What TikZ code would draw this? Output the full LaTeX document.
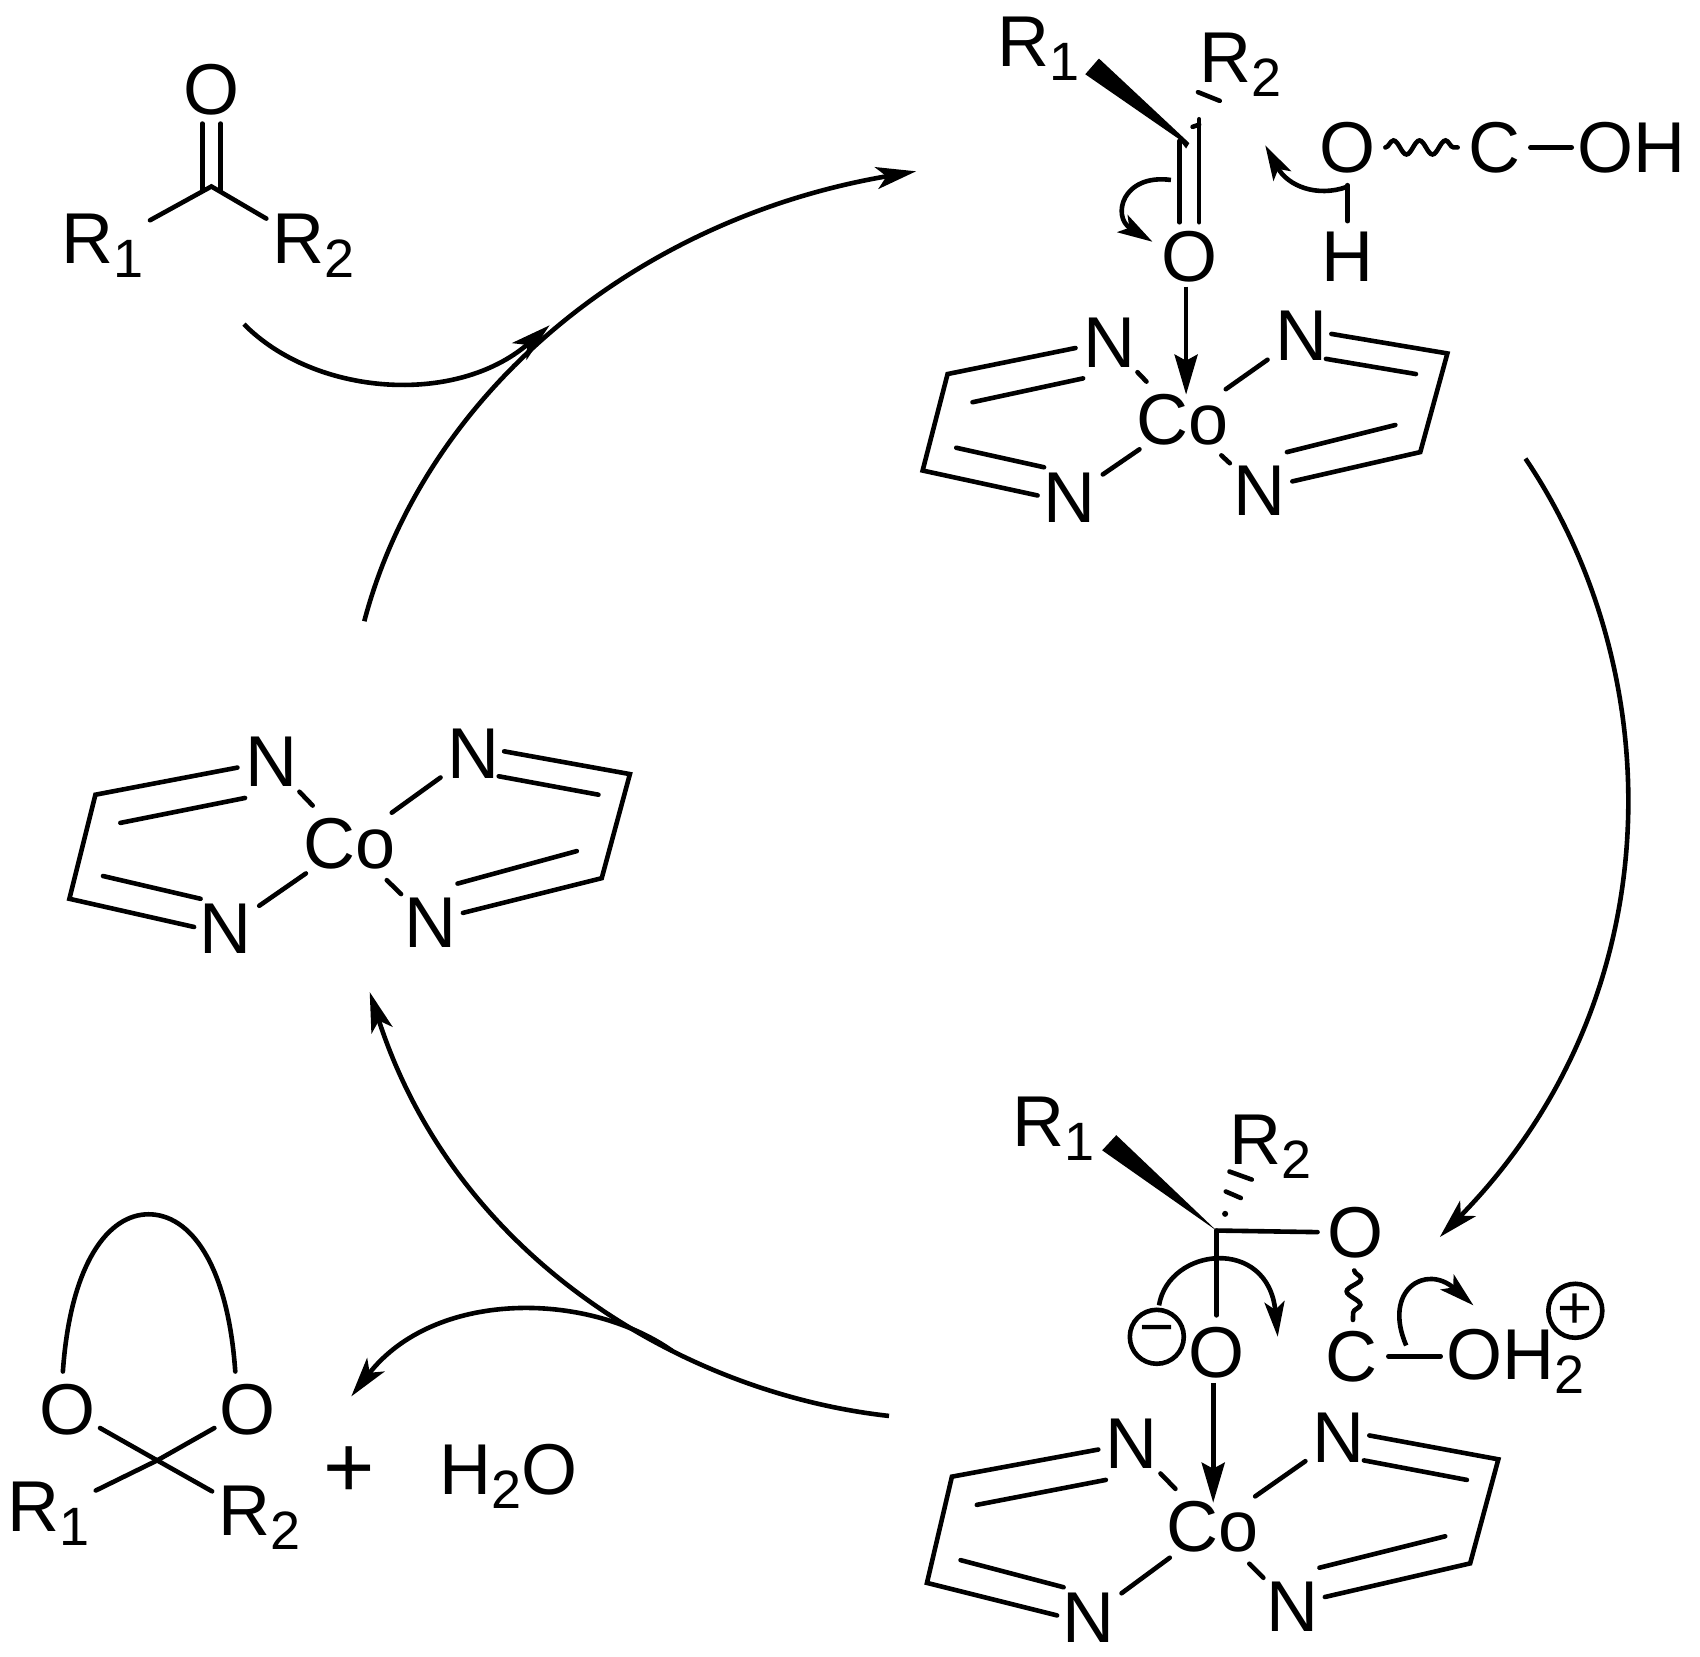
\documentclass[tikz,border=0pt]{standalone}
\usepackage{fontspec}
\setmainfont{Liberation Sans}
\usetikzlibrary{calc,arrows.meta,decorations.pathmorphing}
\newcommand{\subdig}[1]{\raisebox{-7pt}{\fontsize{27}{27}\selectfont #1}}
\tikzset{
 bond/.style={line width=2.3pt,line cap=round,line join=miter},
 rxn/.style={line width=2.3pt,-{Stealth[length=20pt,width=11pt,inset=5pt]}},
 curly/.style={line width=2.3pt,-{Stealth[length=17.5pt,width=10pt,inset=4pt]}},
 dative/.style={line width=2.3pt,-{Stealth[length=20pt,width=11.5pt,inset=3pt]}},
 atom/.style={circle,inner sep=0pt,outer sep=0pt,font=\fontsize{36}{36}\selectfont},
 nit/.style={atom,minimum size=41pt},
 cob/.style={atom,minimum size=49pt},
 rgroup/.style={rectangle,inner sep=3pt,outer sep=0pt,font=\fontsize{36}{36}\selectfont},
 chg/.style={circle,draw,line width=2.3pt,inner sep=0pt,minimum size=27pt,font=\fontsize{30}{30}\selectfont},
 wavy/.style={line width=2.3pt,line cap=round,decorate,decoration={snake,segment length=#1,amplitude=3.5pt}},
}
\newcommand{\metalcomplex}[5]{%
 \coordinate (#1vul) at (#2); \coordinate (#1vll) at (#3);
 \coordinate (#1vur) at (#4); \coordinate (#1vlr) at (#5);
 \draw[bond] ($(#1nul)+(-31,5)$) -- (#1vul) -- (#1vll) -- ($(#1nll)+(-29,-2)$);
 \draw[bond] ($(#1nul)+(-24,33)$) -- ($(#1vul)+(23,26)$);
 \draw[bond] ($(#1nll)+(-23,-28)$) -- ($(#1vll)+(31,-21)$);
 \draw[bond] ($(#1nur)+(28,-2)$) -- (#1vur) -- (#1vlr) -- ($(#1nlr)+(30,-9)$);
 \draw[bond] ($(#1nur)+(23,21)$) -- ($(#1vur)+(-29,19)$);
 \draw[bond] ($(#1nlr)+(25,-36)$) -- ($(#1vlr)+(-23,-25)$);
 \draw[bond] (#1co) -- (#1nul);
 \draw[bond] (#1co) -- (#1nur);
 \draw[bond] (#1co) -- (#1nll);
 \draw[bond] (#1co) -- (#1nlr);
}
\begin{document}
\begin{tikzpicture}[x=0.5421pt,y=-0.5421pt]
\useasboundingbox (0,0) rectangle (1568,1528);

% ketone
\node[atom] (kO) at (195,83) {O};
\coordinate (kC) at (195,172);
\node[rgroup] (kR1) at (95,227) {R\subdig{1}};
\node[rgroup] (kR2) at (289,227) {R\subdig{2}};
\draw[bond] (kR1) -- (kC) -- (kR2);
\draw[bond] ($(kC)+(-8.5,4)$) -- ($(kO)+(-8.5,31)$);
\draw[bond] ($(kC)+(8.5,4)$) -- ($(kO)+(8.5,31)$);

% top complex
\node[cob] (tco) at (1091,387) {Co};
\node[nit] (tnul) at (1023,316) {N};
\node[nit] (tnur) at (1200,310) {N};
\node[nit] (tnll) at (986,459) {N};
\node[nit] (tnlr) at (1162,453) {N};
\metalcomplex{t}{874,345}{851,434}{1335,326}{1310,417}
\node[atom] (tO) at (1097,237) {O};
\coordinate (tC) at (1094,132);
\coordinate (tAr) at (1094,364);
\draw[dative,shorten <=-4pt] (tAr |- tO.south) -- (tAr);
\node[rgroup] (tR1) at (958,45) {R\subdig{1}};
\node[rgroup] (tR2) at (1144,60) {R\subdig{2}};
\fill (1097,132) -- (1013.6,54) -- (1001,68.5) -- (1087,128) -- (1094,137) -- cycle;
\draw[bond] ($(tC)+(-6,-2)$) -- ($(tO)+(-9,-32)$);
\draw[bond] ($(tC)+(12,-22)$) -- ($(tO)+(9,-32)$);
\draw[bond] (1105,85) -- (1125,93);
\draw[bond] (1100,117) -- (1106,115);
\node[atom] (aO) at (1243,136) {O};
\node[atom] (aC) at (1378,136) {C};
\node[rgroup] (aOH) at (1505,136) {OH};
\node[atom] (aH) at (1243,237) {H};
\draw[wavy=13pt] (aO) -- (aC);
\draw[bond] (aC) -- (aOH);
\draw[bond] (aO) -- (aH);
\draw[curly] (1242,172.5) .. controls (1215,182) and (1188,172) .. (1167,134);
\draw[curly] (1080,166) .. controls (1035,160) and (1025,200) .. (1063,223);

% left complex
\node[cob] (lco) at (322,778) {Co};
\node[nit] (lnul) at (250,703) {N};
\node[nit] (lnur) at (437,695) {N};
\node[nit] (lnll) at (208,857) {N};
\node[nit] (lnlr) at (397,851) {N};
\metalcomplex{l}{88,733}{64,829}{581,714}{555,810}

% bottom complex
\node[cob] (bco) at (1118,1408) {Co};
\node[nit] (bnul) at (1044,1332) {N};
\node[nit] (bnur) at (1235,1326) {N};
\node[nit] (bnll) at (1004,1492) {N};
\node[nit] (bnlr) at (1192,1482) {N};
\metalcomplex{b}{878,1362}{855,1460}{1382,1346}{1356,1442}
\node[atom] (bO) at (1122,1248) {O};
\node[atom] (bO2) at (1250,1137) {O};
\node[atom] (bC2) at (1247,1251) {C};
\coordinate (bC) at (1122,1135);
\coordinate (bAr) at (1119,1386);
\draw[dative,shorten <=-4pt] (bAr |- bO.south) -- (bAr);
\draw[bond] (bC) -- (bO);
\draw[bond] (bC) -- (bO2);
\node[rgroup] (bR1) at (972,1041) {R\subdig{1}};
\node[rgroup] (bR2) at (1172,1058) {R\subdig{2}};
\fill (bC) -- (1029.6,1047) -- (1016.6,1061) -- cycle;
\draw[bond] (1134,1080.6) -- (1154.6,1088);
\draw[bond] (1130.6,1099) -- (1144.5,1105);
\fill (1130,1119.6) circle (2.8);
\draw[wavy=13pt] (bO2) -- (bC2);
\node[rgroup] (bOH) at (1398,1256) {OH\subdig{2}};
\draw[bond] (bC2) -- (bC2 -| bOH.west);
\node[chg] (bminus) at (1067,1233) {−};
\node[chg] (bplus) at (1453,1209) {+};
\draw[curly] (1069,1204) .. controls (1078,1150) and (1170,1140) .. (1178.5,1233);
\draw[curly] (1297,1241) .. controls (1275,1190) and (1315,1165) .. (1359,1204);

% product
\node[atom] (pO1) at (62,1300) {O};
\node[atom] (pO2) at (228,1300) {O};
\coordinate (pC) at (145,1347);
\node[rgroup] (pR1) at (45,1396) {R\subdig{1}};
\node[rgroup] (pR2) at (239,1400) {R\subdig{2}};
\draw[bond] (pO1) -- (pC) -- (pR2);
\draw[bond] (pO2) -- (pC) -- (pR1);
\draw[bond] (58,1265) .. controls (65,1165) and (100,1120) .. (137,1120) .. controls (175,1120) and (210,1165) .. (217,1265);
\node[rgroup,font=\fontsize{44}{44}\selectfont] (plus) at (322,1358) {+};
\node[rgroup] (water) at (469,1362) {H\subdig{2}O};

% reaction arrows
\draw[rxn] (336,573) .. controls (390,368) and (580,203) .. (845,158);
\draw[rxn] (225,299) .. controls (290,365) and (420,375) .. (507,300);
\draw[rxn] (1407,423) .. controls (1540,620) and (1545,920) .. (1328,1141);
\draw[rxn] (820,1306) .. controls (630,1285) and (420,1160) .. (341,915);
\draw[rxn] (620,1246) .. controls (540,1190) and (400,1190) .. (324,1288);
\end{tikzpicture}
\end{document}
